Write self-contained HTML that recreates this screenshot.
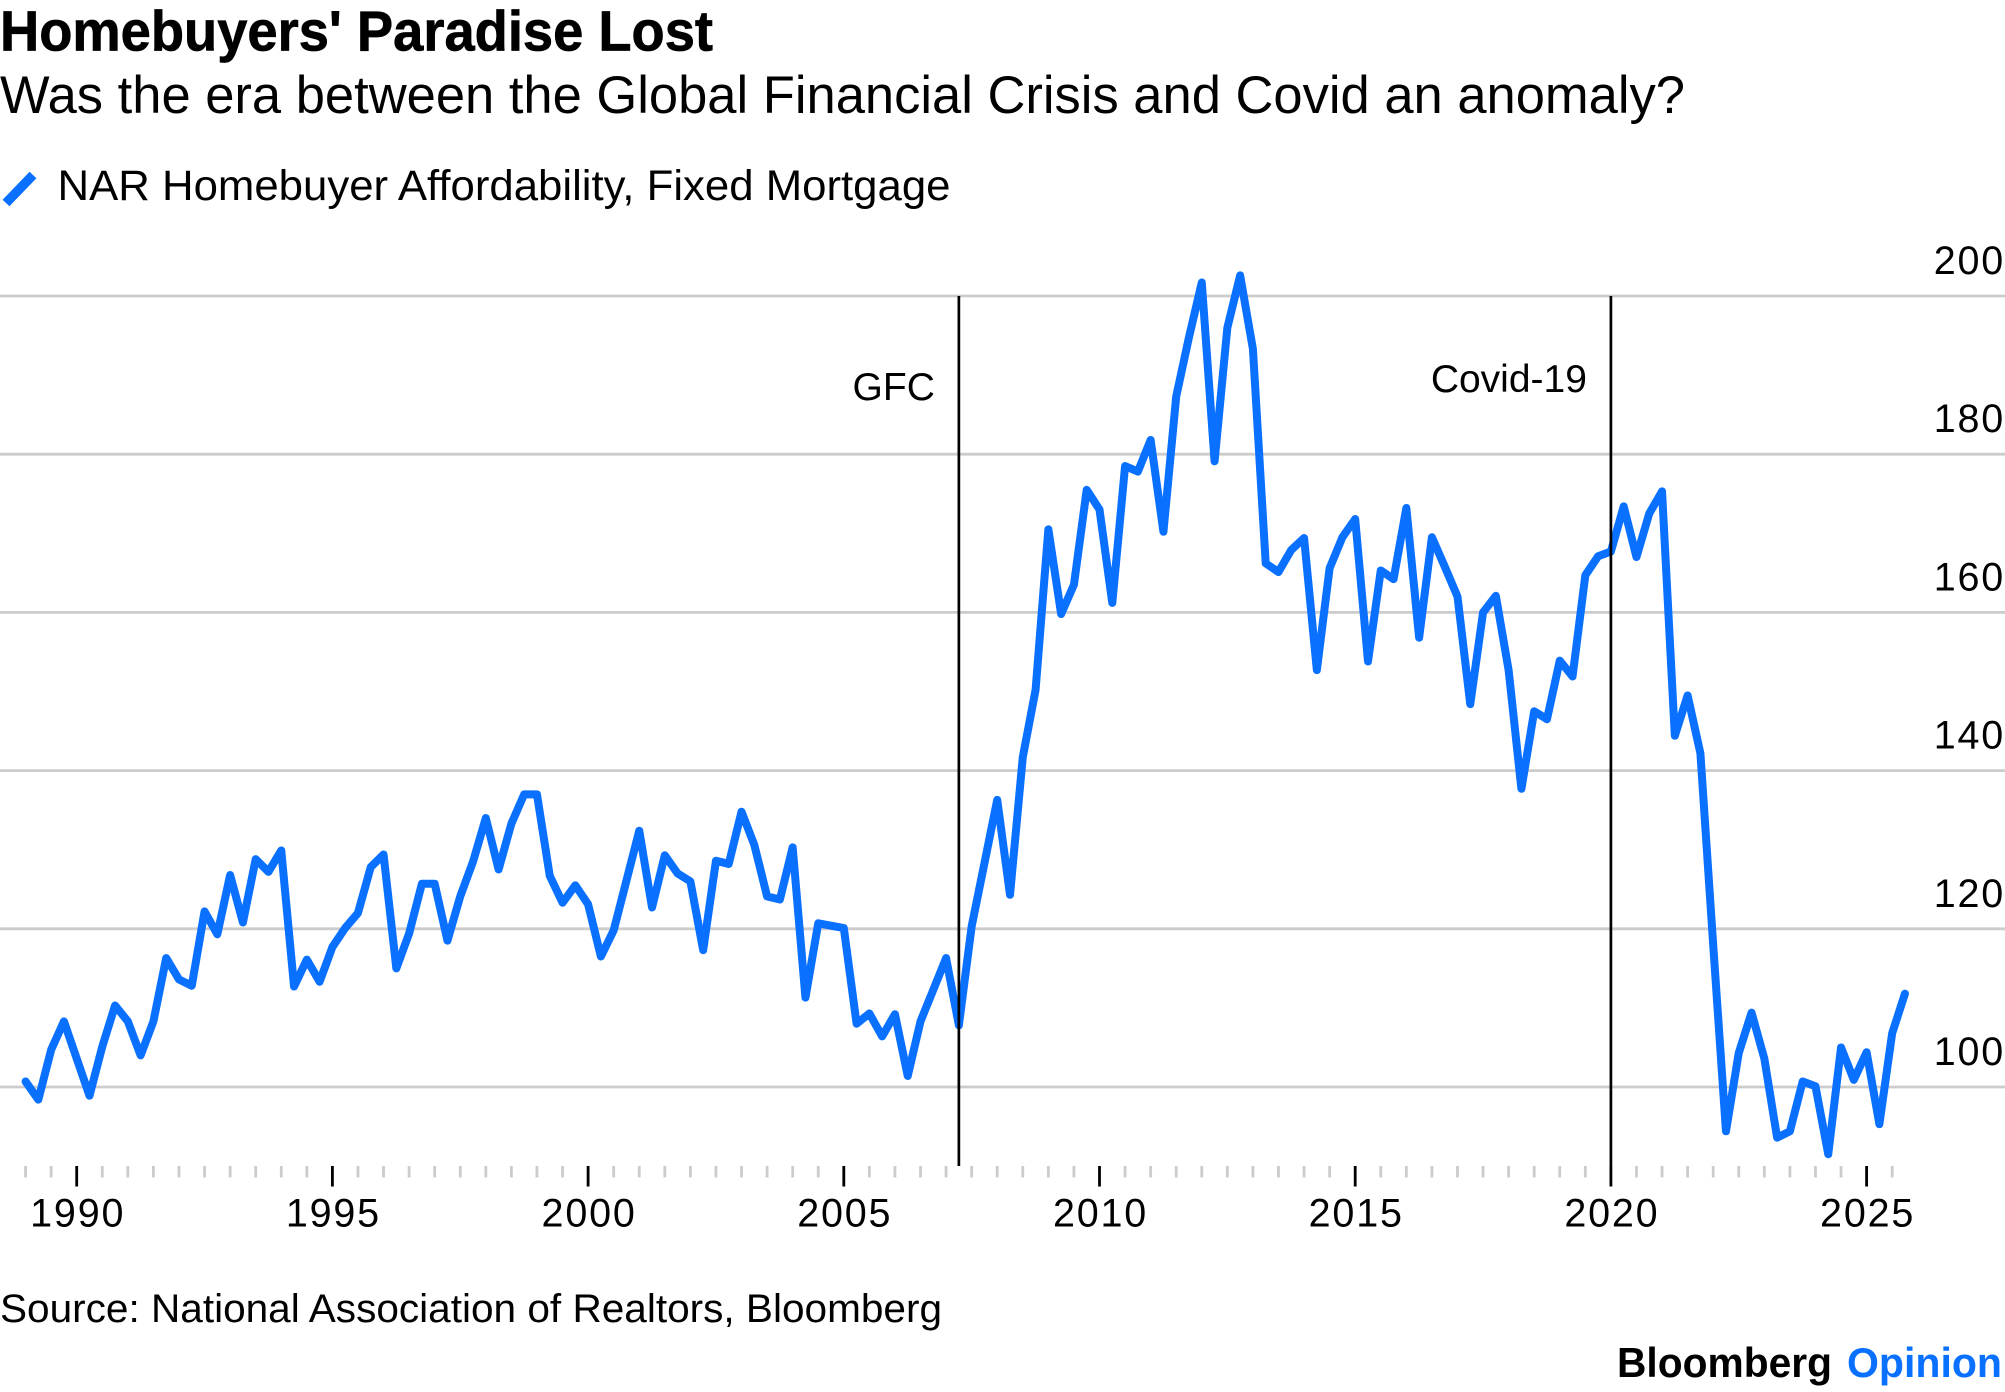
<!DOCTYPE html>
<html lang="en">
<head>
<meta charset="utf-8">
<title>Homebuyers' Paradise Lost</title>
<style>
  html, body { margin: 0; padding: 0; background: #fff; }
  body { width: 2005px; height: 1392px; overflow: hidden; }
  svg { display: block; font-family: "Liberation Sans", Arial, sans-serif; fill: #000; }
</style>
</head>
<body>
<svg id="chart" width="2005" height="1392" viewBox="0 0 2005 1392" xmlns="http://www.w3.org/2000/svg">
  <rect x="0" y="0" width="2005" height="1392" fill="#ffffff"/>
  <text x="0" y="50.5" font-size="56.5" font-weight="700" stroke="#000" stroke-width="0.7" textLength="713" lengthAdjust="spacingAndGlyphs">Homebuyers' Paradise Lost</text>
  <text x="0" y="113" font-size="52.5" textLength="1685" lengthAdjust="spacingAndGlyphs">Was the era between the Global Financial Crisis and Covid an anomaly?</text>
  <line x1="6" y1="203" x2="33" y2="175" stroke="#0a70ff" stroke-width="9.5"/>
  <text x="57.5" y="200" font-size="43" textLength="893" lengthAdjust="spacingAndGlyphs">NAR Homebuyer Affordability, Fixed Mortgage</text>
  <g id="grid"></g>
  <g id="x-axis"></g>
  <g id="y-axis"></g>
  <path id="series" fill="none" stroke="#0a70ff" stroke-width="8" stroke-linejoin="round" stroke-linecap="round"/>
  <g id="events"></g>
  <text x="0" y="1322" font-size="40" textLength="942" lengthAdjust="spacingAndGlyphs">Source: National Association of Realtors, Bloomberg</text>
  <text x="1617" y="1377" font-size="42" font-weight="700" textLength="215" lengthAdjust="spacingAndGlyphs">Bloomberg</text>
  <text x="1847" y="1377" font-size="42" font-weight="700" fill="#0a70ff" textLength="155" lengthAdjust="spacingAndGlyphs">Opinion</text>
</svg>
<script>
const firstYear = 1989;
const stepYears = 0.25;
const affordability = [
  100.7, 98.4, 104.7, 108.3, 103.6, 98.9, 105.1, 110.3, 108.3, 104.0,
  108.3, 116.3, 113.6, 112.8, 122.2, 119.3, 126.8, 120.8, 128.8, 127.2,
  129.9, 112.7, 116.1, 113.3, 117.7, 120.1, 122.0, 127.8, 129.4, 115.0,
  119.4, 125.7, 125.7, 118.5, 124.1, 128.5, 134.0, 127.5, 133.3, 137.0,
  137.0, 126.7, 123.3, 125.5, 123.1, 116.5, 119.8, 126.1, 132.4, 122.7,
  129.3, 127.0, 126.0, 117.3, 128.6, 128.2, 134.8, 130.6, 124.1, 123.7,
  130.3, 111.3, 120.7, 120.4, 120.1, 108.0, 109.3, 106.4, 109.2, 101.4,
  108.3, 112.3, 116.3, 107.8, 120.3, 128.3, 136.3, 124.3, 141.7, 150.2,
  170.5, 159.8, 163.5, 175.5, 173.0, 161.2, 178.5, 177.8, 181.8, 170.2,
  187.3, 194.8, 201.7, 179.1, 196.0, 202.6, 193.3, 166.2, 165.1, 167.9,
  169.4, 152.7, 165.6, 169.5, 171.8, 153.8, 165.3, 164.2, 173.2, 156.8,
  169.5, 165.8, 162.0, 148.4, 160.0, 162.1, 152.7, 137.7, 147.5, 146.5,
  153.9, 151.9, 164.7, 167.1, 167.7, 173.4, 167.0, 172.5, 175.3, 144.4,
  149.5, 142.2, 118.0, 94.4, 104.3, 109.4, 103.6, 93.6, 94.4, 100.7,
  100.1, 91.5, 105.0, 100.9, 104.4, 95.3, 106.8, 111.8
];
const yTickLabels = [100, 120, 140, 160, 180, 200];
const xTickLabels = [1990, 1995, 2000, 2005, 2010, 2015, 2020, 2025];
const eventYears = [2007.25, 2020];
const eventLabels = ["GFC", "Covid-19"];

const NS = "http://www.w3.org/2000/svg";
function xScale(year) { return 76.7 + (year - 1990) * 51.14; }
function yScale(value) { return 1087 - (value - 100) * 7.91; }
function make(tag, parent, attrs, text) {
  const el = document.createElementNS(NS, tag);
  for (const k in attrs) el.setAttribute(k, attrs[k]);
  if (text !== undefined) el.textContent = text;
  parent.appendChild(el);
  return el;
}

const gridGroup = document.getElementById("grid");
const yGroup = document.getElementById("y-axis");
yTickLabels.forEach(function (v) {
  const y = yScale(v);
  const g = make("line", gridGroup, { x1: 0, x2: 2005, y1: y, y2: y, stroke: "#cccccc", "stroke-width": 2.8 });
  
  
  const t = make("text", yGroup, { x: 2005, y: y - 22, "font-size": 39.5, "text-anchor": "end", "letter-spacing": 1.8 }, String(v));
  
  
});

const xGroup = document.getElementById("x-axis");
const lastYear = firstYear + (affordability.length - 1) * stepYears;
for (let yr = firstYear; yr <= lastYear; yr += 0.5) {
  const major = xTickLabels.indexOf(yr) >= 0;
  const x = xScale(yr);
  const tick = make("line", xGroup, { x1: x, x2: x, y1: 1166, y2: major ? 1186.5 : 1177.5, stroke: major ? "#000000" : "#cccccc", "stroke-width": 2.8 });
  
  
}
xTickLabels.forEach(function (yr) {
  const t = make("text", xGroup, { x: xScale(yr) + 1, y: 1226.5, "font-size": 39.5, "text-anchor": "middle", "letter-spacing": 1.8 }, String(yr));
  
  
});

document.getElementById("series").setAttribute("d", affordability.map(function (v, i) {
  return (i ? "L" : "M") + xScale(firstYear + i * stepYears).toFixed(2) + " " + yScale(v).toFixed(2);
}).join(""));

const eventGroup = document.getElementById("events");
eventYears.forEach(function (yr, i) {
  const x = xScale(yr);
  const rule = make("line", eventGroup, { x1: x, x2: x, y1: 296, y2: 1166, stroke: "#000000", "stroke-width": 2.7 });
  
  
  const t = make("text", eventGroup, { x: x - 24, y: i === 0 ? 400 : 392, "font-size": 39, "text-anchor": "end" }, eventLabels[i]);
  
  
});
</script>
</body>
</html>
